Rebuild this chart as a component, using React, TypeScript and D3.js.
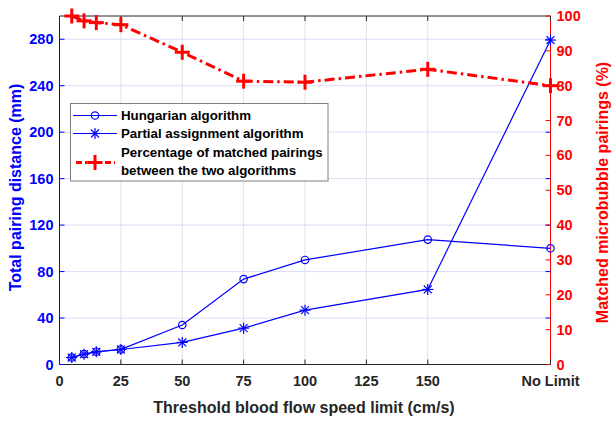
import React from "react";
import * as d3 from "d3";

const xValues = [5, 10, 15, 25, 50, 75, 100, 150, 200];
const hungarian = [6, 9, 11, 13, 34, 73.5, 90, 107.5, 100];
const partial = [6, 8.9, 10.9, 12.9, 19, 31.3, 46.8, 64.6, 279.3];
const matchedPct = [100, 98.6, 98.1, 97.5, 89.6, 81.3, 81, 84.7, 80];
const xTicks = [0, 25, 50, 75, 100, 125, 150, 200];
const xTickLabels = ["0", "25", "50", "75", "100", "125", "150", "No Limit"];
const leftTicks = [0, 40, 80, 120, 160, 200, 240, 280];
const rightTicks = [0, 10, 20, 30, 40, 50, 60, 70, 80, 90, 100];
const legendLabels = ["Hungarian algorithm", "Partial assignment algorithm", "Percentage of matched pairings", "between the two algorithms"];

const W = 616, H = 421;
const L = 59.5, R = 550.5, T = 16, B = 364.5;
const BLUE = "#0000ff";
const RED = "#ff0000";
const FONT = "Liberation Sans, Arial, sans-serif";

function Star({ x, y, s = 5.5 }: { x: number; y: number; s?: number }) {
  const d = s * 0.72;
  return (
    <g stroke={BLUE} strokeWidth={1.2}>
      <line x1={x - s} y1={y} x2={x + s} y2={y} />
      <line x1={x} y1={y - s} x2={x} y2={y + s} />
      <line x1={x - d} y1={y - d} x2={x + d} y2={y + d} />
      <line x1={x - d} y1={y + d} x2={x + d} y2={y - d} />
    </g>
  );
}

function Plus({ x, y, s = 7.5 }: { x: number; y: number; s?: number }) {
  return (
    <g stroke={RED} strokeWidth={3}>
      <line x1={x - s} y1={y} x2={x + s} y2={y} />
      <line x1={x} y1={y - s} x2={x} y2={y + s} />
    </g>
  );
}

export default function App() {
  const x = d3.scaleLinear().domain([0, 200]).range([L, R]);
  const yL = d3.scaleLinear().domain([0, 300]).range([B, T]);
  const yR = d3.scaleLinear().domain([0, 100]).range([B, T]);

  const lineL = d3.line<[number, number]>().x(d => x(d[0])).y(d => yL(d[1]));
  const lineR = d3.line<[number, number]>().x(d => x(d[0])).y(d => yR(d[1]));

  const hData = xValues.map((v, i) => [v, hungarian[i]] as [number, number]);
  const pData = xValues.map((v, i) => [v, partial[i]] as [number, number]);
  const mData = xValues.map((v, i) => [v, matchedPct[i]] as [number, number]);

  const lgX = 70.5, lgY = 103.5, lgW = 257.5, lgH = 77.5;
  const sx1 = 73, sx2 = 117, smid = 95;

  return (
    <svg width={W} height={H} style={{ position: "absolute", left: 0, top: 0, background: "#fff" }} fontFamily={FONT}>
      <rect x={0} y={0} width={W} height={H} fill="#fff" />
      {xTicks.map(t => (
        <line key={"vg" + t} x1={x(t)} x2={x(t)} y1={T} y2={B} stroke="#e3e3e3" strokeWidth={1} />
      ))}
      {leftTicks.map(t => (
        <line key={"hg" + t} x1={L} x2={R} y1={yL(t)} y2={yL(t)} stroke="#dcdcf8" strokeWidth={1} />
      ))}
      <line x1={L} x2={R} y1={T} y2={T} stroke="#262626" strokeWidth={1} />
      <line x1={L} x2={R} y1={B} y2={B} stroke="#262626" strokeWidth={1} />
      <line x1={L} x2={L} y1={T} y2={B} stroke={BLUE} strokeWidth={1} />
      <line x1={R} x2={R} y1={T} y2={B} stroke={RED} strokeWidth={1} />
      {xTicks.map((t, i) => (
        <g key={"xt" + t}>
          <line x1={x(t)} x2={x(t)} y1={B} y2={B - 5} stroke="#262626" />
          <line x1={x(t)} x2={x(t)} y1={T} y2={T + 5} stroke="#262626" />
          <text x={x(t)} y={B + 21} textAnchor="middle" fontSize={14.5} fontWeight="bold" fill="#262626">{xTickLabels[i]}</text>
        </g>
      ))}
      {leftTicks.map(t => (
        <g key={"lt" + t}>
          <line x1={L} x2={L + 5} y1={yL(t)} y2={yL(t)} stroke={BLUE} />
          <line x1={R} x2={R - 5} y1={yL(t)} y2={yL(t)} stroke={BLUE} />
          <text x={L - 6} y={yL(t) + 5} textAnchor="end" fontSize={14.5} fontWeight="bold" fill={BLUE}>{t}</text>
        </g>
      ))}
      {rightTicks.map(t => (
        <g key={"rt" + t}>
          <line x1={R} x2={R - 5} y1={yR(t)} y2={yR(t)} stroke={RED} />
          <text x={R + 6} y={yR(t) + 5} textAnchor="start" fontSize={14.5} fontWeight="bold" fill={RED}>{t}</text>
        </g>
      ))}
      <text transform={`translate(21,187.5) rotate(-90)`} textAnchor="middle" fontSize={16} fontWeight="bold" fill={BLUE}>Total pairing distance (mm)</text>
      <text transform={`translate(607.5,192.5) rotate(-90)`} textAnchor="middle" fontSize={16} fontWeight="bold" fill={RED}>Matched microbubble pairings (%)</text>
      <text x={304} y={413} textAnchor="middle" fontSize={16} fontWeight="bold" fill="#262626">Threshold blood flow speed limit (cm/s)</text>

      <path d={lineL(hData) || ""} fill="none" stroke={BLUE} strokeWidth={1.2} />
      {hData.map((d, i) => (
        <circle key={"hc" + i} cx={x(d[0])} cy={yL(d[1])} r={3.7} fill="none" stroke={BLUE} strokeWidth={1.2} />
      ))}
      <path d={lineL(pData) || ""} fill="none" stroke={BLUE} strokeWidth={1.2} />
      {pData.map((d, i) => (
        <Star key={"ps" + i} x={x(d[0])} y={yL(d[1])} />
      ))}
      <path d={lineR(mData) || ""} fill="none" stroke={RED} strokeWidth={3} strokeDasharray="10,4,2.5,4" />
      {mData.map((d, i) => (
        <Plus key={"mp" + i} x={x(d[0])} y={yR(d[1])} />
      ))}

      <rect x={lgX} y={lgY} width={lgW} height={lgH} fill="#fff" stroke="#7f7f7f" strokeWidth={1} />
      <line x1={sx1} x2={sx2} y1={115.5} y2={115.5} stroke={BLUE} strokeWidth={1.2} />
      <circle cx={smid} cy={115.5} r={3.7} fill="none" stroke={BLUE} strokeWidth={1.2} />
      <line x1={sx1} x2={sx2} y1={133.5} y2={133.5} stroke={BLUE} strokeWidth={1.2} />
      <Star x={smid} y={133.5} />
      <line x1={sx1 + 3} x2={sx2 - 2} y1={162.5} y2={162.5} stroke={RED} strokeWidth={3} strokeDasharray="6,3,2.5,3" />
      <Plus x={smid} y={162.5} />
      {legendLabels.map((s, i) => (
        <text key={"lg" + i} x={121} y={[120.3, 138.3, 157, 175.3][i]} fontSize={13.3} fontWeight="bold" fill="#000">{s}</text>
      ))}
    </svg>
  );
}
